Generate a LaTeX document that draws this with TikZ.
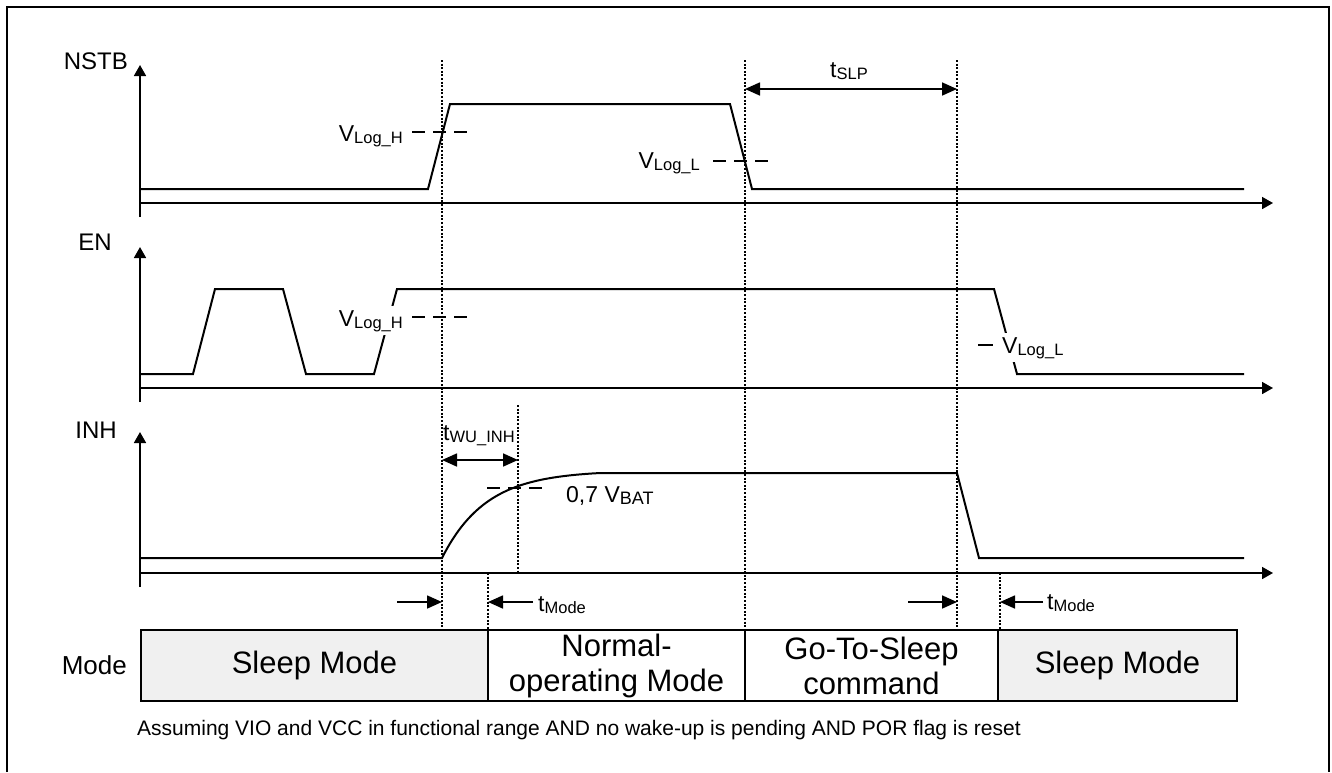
\documentclass[tikz,border=0pt]{standalone}
\usepackage{fontspec}
\setmainfont{Liberation Sans}
\usetikzlibrary{arrows.meta}
\definecolor{cellgray}{HTML}{F0F0F0}
\newcommand\fs[1]{\fontsize{#1}{#1}\selectfont}
\newcommand\sbs[1]{\raisebox{-2pt}{\fs{16.5}#1}}
\begin{document}
\begin{tikzpicture}[x=1pt,y=-1pt,
  sig/.style={line width=2pt, line join=miter},
  axis/.style={line width=1.7pt,-{Triangle[length=11pt,width=12pt]}},
  vguide/.style={line width=1.5pt, dash pattern=on 2pt off 1.6pt},
  thr/.style={line width=1.5pt, dash pattern=on 13pt off 8pt},
  dimboth/.style={line width=1.7pt, {Triangle[length=15pt,width=13pt]}-{Triangle[length=15pt,width=13pt]}},
  dimone/.style={line width=1.7pt, -{Triangle[length=15pt,width=13pt]}},
  lbl/.style={inner sep=0pt, font=\fs{24}},
  vlbl/.style={inner sep=0pt, font=\fs{23}},
  cell/.style={draw, line width=2pt, minimum height=71pt, inner sep=0pt, align=center, font=\fontsize{31}{35}\selectfont}
]
\useasboundingbox (0,0) rectangle (1332,772);
% frame
\draw[line width=1.5pt] (7,772) -- (7,7) -- (1329,7) -- (1329,772);

% ---------- NSTB ----------
\node[lbl, anchor=east] (nstb) at (128,61) {NSTB};
\coordinate (nA0) at (140,217); \coordinate (nA1) at (140,65);
\coordinate (nX0) at (140,203); \coordinate (nX1) at (1273,203);
\draw[axis] (nA0) -- (nA1);
\draw[axis] (nX0) -- (nX1);
\draw[sig] (140,189) -- (428,189) -- (450,104) -- (730,104) -- (752,189) -- (1244,189);

% ---------- EN ----------
\node[lbl, anchor=east] (en) at (112,242) {EN};
\coordinate (eA0) at (140,402); \coordinate (eA1) at (140,247);
\coordinate (eX0) at (140,388); \coordinate (eX1) at (1273,388);
\draw[axis] (eA0) -- (eA1);
\draw[axis] (eX0) -- (eX1);
\draw[sig] (140,374) -- (193,374) -- (215,289) -- (283,289) -- (306,374) -- (374,374)
  -- (397,289) -- (994,289) -- (1017,374) -- (1244,374);

% ---------- INH ----------
\node[lbl, anchor=east] (inh) at (117,430) {INH};
\coordinate (iA0) at (140,587); \coordinate (iA1) at (140,432);
\coordinate (iX0) at (140,573); \coordinate (iX1) at (1273,573);
\draw[axis] (iA0) -- (iA1);
\draw[axis] (iX0) -- (iX1);
\draw[sig] (140,558) -- (442,558)
  -- plot[domain=442:600, samples=60] (\x, {558-85*(1-exp(-(\x-442)/44))/(1-exp(-158/44))})
  -- (957,473) -- (979,558) -- (1244,558);

% ---------- vertical guides ----------
\coordinate (g1t) at (442,60);  \coordinate (g1b) at (442,630);
\coordinate (g2t) at (745,60);  \coordinate (g2b) at (745,630);
\coordinate (g3t) at (957,60);  \coordinate (g3b) at (957,630);
\coordinate (g4t) at (518,405); \coordinate (g4b) at (518,573);
\coordinate (g5t) at (488,573); \coordinate (g5b) at (488,630);
\coordinate (g6t) at (1000,573); \coordinate (g6b) at (1000,630);
\foreach \a/\b in {g1t/g1b,g2t/g2b,g3t/g3b,g4t/g4b,g5t/g5b,g6t/g6b}
  \draw[vguide] (\a) -- (\b);

% ---------- thresholds ----------
\node[vlbl, anchor=base east] (vlh1) at (403,141) {V\sbs{Log\_H}};
\draw[thr] (412,132) -- (472,132);
\node[vlbl, anchor=base east] (vll1) at (700,168) {V\sbs{Log\_L}};
\draw[thr] (713,161) -- (775,161);
\node[vlbl, anchor=base east, fill=white, inner ysep=4pt] (vlh2) at (403,326) {V\sbs{Log\_H}};
\draw[thr] (412,317) -- (472,317);
\draw[line width=1.5pt] (978,345) -- (993,345);
\node[vlbl, anchor=base west, fill=white, inner ysep=4pt] (vll2) at (1002,353) {V\sbs{Log\_L}};
\draw[thr] (487,488) -- (547,488);
\node[vlbl, anchor=base west] (vbat) at (566,502) {0,7 V\sbs{\fs{18}BAT}};

% ---------- timing arrows ----------
\coordinate (s1) at (745,89); \coordinate (s2) at (957,89);
\draw[dimboth] (s1) -- (s2);
\node[vlbl, anchor=base west] (tslp) at (830,77) {t\sbs{SLP}};
\coordinate (w1) at (442,460); \coordinate (w2) at (518,460);
\draw[dimboth] (w1) -- (w2);
\node[vlbl, anchor=base west] (twu) at (443,440) {t\sbs{WU\_INH}};

\coordinate (m1a) at (397,602); \coordinate (m1b) at (442,602);
\coordinate (m2a) at (533,602); \coordinate (m2b) at (488,602);
\coordinate (m3a) at (908,602); \coordinate (m3b) at (957,602);
\coordinate (m4a) at (1043,602); \coordinate (m4b) at (1000,602);
\draw[dimone] (m1a) -- (m1b);
\draw[dimone] (m2a) -- (m2b);
\draw[dimone] (m3a) -- (m3b);
\draw[dimone] (m4a) -- (m4b);
\node[vlbl, anchor=base west] (tm1) at (538,611) {t\sbs{Mode}};
\node[vlbl, anchor=base west] (tm2) at (1047,609) {t\sbs{Mode}};

% ---------- mode row ----------
\node[inner sep=0pt, font=\fs{26}, anchor=east] (modelbl) at (127,665) {Mode};
\node[cell, fill=cellgray, minimum width=347pt] (c1) at (314.5,665.5) {Sleep Mode};
\node[cell, fill=white, minimum width=257pt] (c2) at (616.5,665.5) {Normal-\\operating Mode};
\node[cell, fill=white, minimum width=253pt] (c3) at (871.5,665.5) {Go-To-Sleep\\command};
\node[cell, fill=cellgray, minimum width=239pt] (c4) at (1117.5,665.5) {Sleep Mode};

\node[inner sep=0pt, font=\fs{21}, anchor=base west] (note) at (137,735)
  {Assuming VIO and VCC in functional range AND no wake-up is pending AND POR flag is reset};
\end{tikzpicture}
\end{document}
